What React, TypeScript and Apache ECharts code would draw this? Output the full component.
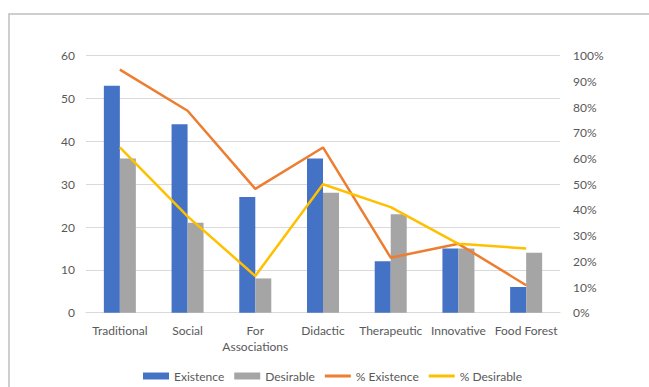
import React, { useEffect, useRef } from "react";
import * as echarts from "echarts";

const categories = ["Traditional", "Social", "For\nAssociations", "Didactic", "Therapeutic", "Innovative", "Food Forest"];
const existence = [53, 44, 27, 36, 12, 15, 6];
const desirable = [36, 21, 8, 28, 23, 15, 14];
const pctExistence = [94.6, 78.6, 48.2, 64.3, 21.4, 26.8, 10.7];
const pctDesirable = [64.3, 37.5, 14.3, 50.0, 41.1, 26.8, 25.0];

const FONT = "Lato, 'Open Sans', sans-serif";
const TXT = "#595959";

export default function App() {
  const ref = useRef<HTMLDivElement>(null);
  useEffect(() => {
    document.body.style.margin = "0";
    const chart = echarts.init(ref.current!, null, { renderer: "svg" });
    const lineIcon = "path://M0,0h26v3h-26z";
    chart.setOption({
      animation: false,
      backgroundColor: "#ffffff",
      textStyle: { fontFamily: FONT },
      graphic: [
        {
          type: "rect",
          shape: { x: 9, y: 14, width: 700, height: 420 },
          style: { fill: "none", stroke: "#bfbfbf", lineWidth: 1.5 },
          silent: true,
        },
      ],
      grid: { left: 86, right: 89, top: 55.7, bottom: 74.3 },
      legend: {
        bottom: 0,
        left: 138,
        itemWidth: 26,
        itemHeight: 7,
        itemGap: 10,
        textStyle: { color: TXT, fontSize: 12, fontFamily: FONT },
        data: [
          { name: "Existence", icon: "rect" },
          { name: "Desirable", icon: "rect" },
          { name: "% Existence", icon: lineIcon },
          { name: "% Desirable", icon: lineIcon },
        ],
      },
      xAxis: {
        type: "category",
        data: categories,
        axisLine: { lineStyle: { color: "#d9d9d9", width: 1 } },
        axisTick: { show: false },
        axisLabel: { color: TXT, fontSize: 12, fontFamily: FONT, margin: 10, lineHeight: 16, interval: 0 },
      },
      yAxis: [
        {
          type: "value",
          min: 0,
          max: 60,
          interval: 10,
          axisLine: { show: false },
          axisTick: { show: false },
          splitLine: { lineStyle: { color: "#d9d9d9", width: 1 } },
          axisLabel: { color: TXT, fontSize: 12, fontFamily: FONT, margin: 11 },
        },
        {
          type: "value",
          min: 0,
          max: 100,
          interval: 10,
          axisLine: { show: false },
          axisTick: { show: false },
          splitLine: { show: false },
          axisLabel: { color: TXT, fontSize: 12, fontFamily: FONT, margin: 13, formatter: "{value}%" },
        },
      ],
      series: [
        {
          name: "Existence",
          type: "bar",
          data: existence,
          barWidth: 16,
          barGap: "0%",
          itemStyle: { color: "#4472C4" },
        },
        {
          name: "Desirable",
          type: "bar",
          data: desirable,
          barWidth: 16,
          barGap: "0%",
          itemStyle: { color: "#A5A5A5" },
        },
        {
          name: "% Existence",
          type: "line",
          yAxisIndex: 1,
          data: pctExistence,
          symbol: "none",
          lineStyle: { color: "#ED7D31", width: 2.5 },
          itemStyle: { color: "#ED7D31" },
        },
        {
          name: "% Desirable",
          type: "line",
          yAxisIndex: 1,
          data: pctDesirable,
          symbol: "none",
          lineStyle: { color: "#FFC000", width: 2.5 },
          itemStyle: { color: "#FFC000" },
        },
      ],
    });
    return () => chart.dispose();
  }, []);
  return <div ref={ref} style={{ width: 649, height: 387 }} />;
}
